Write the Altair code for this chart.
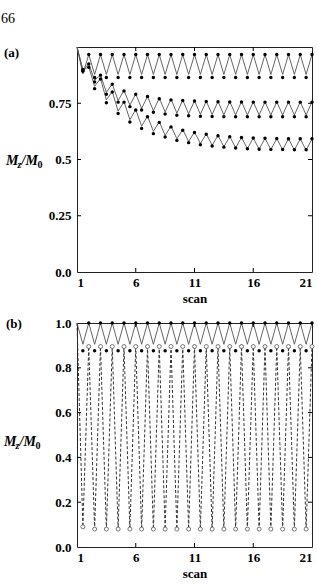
import altair as alt
import pandas as pd

# ---------------- data ----------------
scan = [1, 1.5, 2, 2.5, 3, 3.5, 4, 4.5, 5, 5.5, 6, 6.5, 7, 7.5, 8, 8.5, 9, 9.5, 10, 10.5,
        11, 11.5, 12, 12.5, 13, 13.5, 14, 14.5, 15, 15.5, 16, 16.5, 17, 17.5, 18, 18.5,
        19, 19.5, 20, 20.5, 21]

# panel (a): simulated lines and measured dots for three series
a_top_line = [1.0,
              0.880, 0.966, 0.878, 0.966, 0.878, 0.966, 0.878, 0.966, 0.878, 0.966,
              0.878, 0.966, 0.878, 0.966, 0.878, 0.966, 0.878, 0.966, 0.878, 0.966,
              0.878, 0.966, 0.878, 0.966, 0.878, 0.966, 0.878, 0.966, 0.878, 0.966,
              0.878, 0.966, 0.878, 0.966, 0.878, 0.966, 0.878, 0.966, 0.878, 0.966]
a_top_dots = [None,
              0.893, 0.967, 0.864, 0.967, 0.864, 0.967, 0.864, 0.967, 0.864, 0.967,
              0.864, 0.967, 0.864, 0.967, 0.864, 0.967, 0.864, 0.967, 0.864, 0.967,
              0.864, 0.967, 0.864, 0.967, 0.864, 0.967, 0.864, 0.967, 0.864, 0.967,
              0.864, 0.967, 0.864, 0.967, 0.864, 0.967, 0.864, 0.967, 0.864, 0.967]
a_mid_line = [1.0,
              0.897, 0.925, 0.852, 0.876, 0.798, 0.836, 0.762, 0.807, 0.742, 0.791,
              0.727, 0.780, 0.717, 0.773, 0.711, 0.768, 0.706, 0.764, 0.703, 0.761,
              0.701, 0.759, 0.700, 0.758, 0.699, 0.757, 0.699, 0.757, 0.698, 0.756,
              0.698, 0.756, 0.698, 0.756, 0.698, 0.756, 0.698, 0.756, 0.698, 0.756]
a_mid_dots = [None,
              0.900, 0.925, 0.845, 0.875, 0.790, 0.835, 0.755, 0.805, 0.735, 0.790,
              0.720, 0.780, 0.710, 0.770, 0.702, 0.765, 0.697, 0.762, 0.694, 0.760,
              0.692, 0.758, 0.691, 0.757, 0.690, 0.756, 0.690, 0.756, 0.690, 0.755,
              0.690, 0.755, 0.690, 0.755, 0.690, 0.755, 0.690, 0.755, 0.690, 0.755]
a_low_line = [1.0,
              0.897, 0.912, 0.825, 0.860, 0.765, 0.802, 0.715, 0.757, 0.677, 0.722,
              0.648, 0.693, 0.625, 0.668, 0.607, 0.648, 0.592, 0.633, 0.580, 0.622,
              0.571, 0.614, 0.563, 0.607, 0.557, 0.602, 0.552, 0.598, 0.548, 0.596,
              0.546, 0.594, 0.544, 0.593, 0.543, 0.592, 0.542, 0.592, 0.541, 0.591]
a_low_dots = [None,
              0.893, 0.910, 0.815, 0.858, 0.752, 0.800, 0.704, 0.755, 0.667, 0.720,
              0.638, 0.690, 0.615, 0.665, 0.600, 0.645, 0.585, 0.630, 0.575, 0.620,
              0.566, 0.612, 0.560, 0.606, 0.555, 0.601, 0.551, 0.598, 0.548, 0.596,
              0.546, 0.594, 0.545, 0.593, 0.544, 0.592, 0.543, 0.592, 0.543, 0.592]

# panel (b)
b_solid_line = [1.0,
                0.905, 1.0, 0.905, 1.0, 0.905, 1.0, 0.905, 1.0, 0.905, 1.0,
                0.905, 1.0, 0.905, 1.0, 0.905, 1.0, 0.905, 1.0, 0.905, 1.0,
                0.905, 1.0, 0.905, 1.0, 0.905, 1.0, 0.905, 1.0, 0.905, 1.0,
                0.905, 1.0, 0.905, 1.0, 0.905, 1.0, 0.905, 1.0, 0.905, 1.0]
b_filled_dots = [None,
                 0.876, 1.0, 0.876, 1.0, 0.876, 1.0, 0.876, 1.0, 0.876, 1.0,
                 0.876, 1.0, 0.876, 1.0, 0.876, 1.0, 0.876, 1.0, 0.876, 1.0,
                 0.876, 1.0, 0.876, 1.0, 0.876, 1.0, 0.876, 1.0, 0.876, 1.0,
                 0.876, 1.0, 0.876, 1.0, 0.876, 1.0, 0.876, 1.0, 0.876, 1.0]
b_dashed_line = [1.0,
                 0.090, 0.895, 0.080, 0.895, 0.080, 0.895, 0.080, 0.895, 0.080, 0.895,
                 0.080, 0.895, 0.080, 0.895, 0.080, 0.895, 0.080, 0.895, 0.080, 0.895,
                 0.080, 0.895, 0.080, 0.895, 0.080, 0.895, 0.080, 0.895, 0.080, 0.895,
                 0.080, 0.895, 0.080, 0.895, 0.080, 0.895, 0.080, 0.895, 0.080, 0.895]
b_open_dots = [None,
               0.090, 0.895, 0.080, 0.895, 0.080, 0.895, 0.080, 0.895, 0.080, 0.895,
               0.080, 0.895, 0.080, 0.895, 0.080, 0.895, 0.080, 0.895, 0.080, 0.895,
               0.080, 0.895, 0.080, 0.895, 0.080, 0.895, 0.080, 0.895, 0.080, 0.895,
               0.080, 0.895, 0.080, 0.895, 0.080, 0.895, 0.080, 0.895, 0.080, 0.895]

x_ticks = [1, 6, 11, 16, 21]
x_inner_ticks = [6, 11, 16]
ya_ticks = [0, 0.25, 0.5, 0.75]
ya_labels = ["0.0", "0.25", "0.5", "0.75"]
ya_inner_ticks = [0.25, 0.5, 0.75]
yb_ticks = [0, 0.2, 0.4, 0.6, 0.8, 1.0]
yb_labels = ["0.0", "0.2", "0.4", "0.6", "0.8", "1.0"]
yb_inner_ticks = [0.2, 0.4, 0.6, 0.8]

# ---------------- style ----------------
FONT = "Liberation Serif"
W = 235
HA = 225
HB = 224
LINE_C = "#555555"


def tidy(series_dict):
    rows = []
    for name, vals in series_dict.items():
        for s, v in zip(scan, vals):
            if v is not None:
                rows.append({"scan": s, "value": v, "series": name})
    return pd.DataFrame(rows)


def label_expr(ticks, labels):
    t = ",".join(str(v) for v in ticks)
    l = ",".join("'" + s + "'" for s in labels)
    return f"[{l}][indexof([{t}], datum.value)]"


X = alt.X("scan:Q", scale=alt.Scale(domain=[1, 21], nice=False, zero=False),
          axis=alt.Axis(values=x_ticks, format="d", title="scan"))


def make_y(ticks, labels):
    return alt.Y("value:Q", scale=alt.Scale(domain=[0, 1], nice=False),
                 axis=alt.Axis(values=ticks, labelExpr=label_expr(ticks, labels), title=None))


def inner_ticks(h, yt, Y):
    ydf = pd.DataFrame({"value": yt})
    xdf = pd.DataFrame({"scan": x_inner_ticks})
    l = alt.Chart(ydf).mark_rule(color="black", strokeWidth=1).encode(
        y=Y, x=alt.value(0), x2=alt.value(4))
    r = alt.Chart(ydf).mark_rule(color="black", strokeWidth=1).encode(
        y=Y, x=alt.value(W - 4), x2=alt.value(W))
    b = alt.Chart(xdf).mark_rule(color="black", strokeWidth=1).encode(
        x=X, y=alt.value(h - 4), y2=alt.value(h))
    t = alt.Chart(xdf).mark_rule(color="black", strokeWidth=1).encode(
        x=X, y=alt.value(0), y2=alt.value(4))
    return [l, r, b, t]


def text(t, x, y, size=13, weight="bold", style="normal", align="left"):
    return alt.Chart(pd.DataFrame({"t": [t]})).mark_text(
        font=FONT, fontSize=size, fontWeight=weight, fontStyle=style, align=align,
        baseline="middle", color="black").encode(x=alt.value(x), y=alt.value(y), text="t:N")


def ytitle(x0, yc):
    return [
        text("M", x0, yc, size=14, style="italic"),
        text("z", x0 + 11.5, yc + 4, size=10, style="italic"),
        text("/M", x0 + 15.5, yc, size=14, style="italic"),
        text("0", x0 + 31.5, yc + 4, size=10),
    ]


# ---------------- panel (a) ----------------
YA = make_y(ya_ticks, ya_labels)
a_lines = tidy({"top": a_top_line, "mid": a_mid_line, "low": a_low_line})
a_dots = tidy({"top": a_top_dots, "mid": a_mid_dots, "low": a_low_dots})

pa_lines = alt.Chart(a_lines).mark_line(color=LINE_C, strokeWidth=0.9).encode(
    x=X, y=YA, detail="series:N")
pa_dots = alt.Chart(a_dots).mark_circle(color="black", size=12, opacity=1).encode(x=X, y=YA)

panel_a = alt.layer(
    pa_lines, pa_dots, *inner_ticks(HA, ya_inner_ticks, YA),
    text("66", -76, -28, size=14, weight="normal"),
    text("(a)", -73, 6),
    *ytitle(-71, 114),
).properties(width=W, height=HA)

# ---------------- panel (b) ----------------
YB = make_y(yb_ticks, yb_labels)
b_solid = tidy({"solid": b_solid_line})
b_dash = tidy({"dash": b_dashed_line})
b_filled = tidy({"filled": b_filled_dots})
b_open = tidy({"open": b_open_dots})

pb_dash = alt.Chart(b_dash).mark_line(color="#333333", strokeWidth=1, strokeDash=[3, 2]).encode(x=X, y=YB)
pb_solid = alt.Chart(b_solid).mark_line(color=LINE_C, strokeWidth=0.9).encode(x=X, y=YB)
pb_filled = alt.Chart(b_filled).mark_circle(color="black", size=12, opacity=1).encode(x=X, y=YB)
pb_open = alt.Chart(b_open).mark_point(shape="circle", filled=True, fill="white", stroke="#555555",
                                        strokeWidth=0.8, size=16, opacity=1).encode(x=X, y=YB)

panel_b = alt.layer(
    pb_dash, pb_solid, pb_open, pb_filled, *inner_ticks(HB, yb_inner_ticks, YB),
    text("(b)", -71, 1),
    *ytitle(-73, 119),
).properties(width=W, height=HB)

chart = alt.vconcat(panel_a, panel_b, spacing=10).properties(
    padding={"left": 0, "top": 11, "right": 0, "bottom": 0}
).configure_view(stroke="#222222", strokeWidth=1).configure_axis(
    labelFont=FONT, labelFontWeight="bold", labelFontSize=13, labelColor="black",
    titleFont=FONT, titleFontWeight="bold", titleFontSize=13, titleColor="black",
    ticks=False, domain=False, grid=False,
).configure_axisX(labelPadding=4, titlePadding=3).configure_axisY(labelPadding=6)

chart.save("out.html", embed_options={"renderer": "svg", "actions": False})
